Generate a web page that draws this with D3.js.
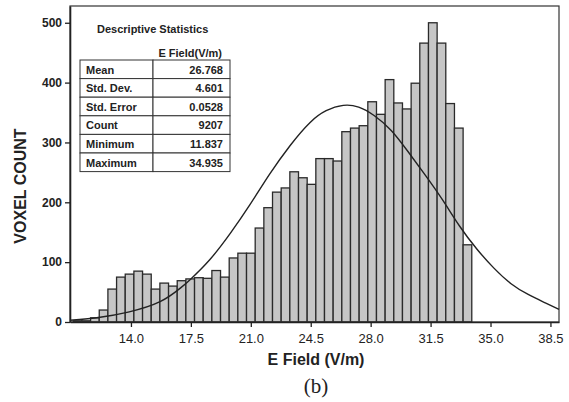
<!DOCTYPE html>
<html><head><meta charset="utf-8">
<script src="https://cdn.jsdelivr.net/npm/d3@7/dist/d3.min.js"></script>
<style>
body{margin:0;background:#fff;}
svg{display:block;font-family:"Liberation Sans",Arial,sans-serif;}
</style></head>
<body><svg id="chart" width="569" height="402"></svg>
<script>
// ---- data ----
const binStart = 10.63;      // lower edge of first bin (axis units)
const binWidth = 0.506;      // bin width (axis units)
const counts = [2,2,7,20,55,75,80,85,80,55,65,60,69,72,74,73,86,75,107,115,115,157,191,217,224,251,241,230,273,273,269,318,324,328,368,347,405,366,356,399,466,500,466,365,324,129];
const curveX = [10.44,12.2,13.9,15.7,16.9,17.5,18.6,19.8,20.95,22.1,23.3,24.45,25.4,26.4,27.3,28.2,29.2,30.2,31.2,32.2,33.2,34.2,35.2,36.2,37.2,38.2,39.0];
const curveY = [3,8,17,34,57,72,104,148,196,247,295,333,353,362,359,345,320,284,245,204,160,122,90,64,46,32,21];
const xTicks = [14.0,17.5,21.0,24.5,28.0,31.5,35.0,38.5];
const yTicks = [0,100,200,300,400,500];
const statNames = ["Mean","Std. Dev.","Std. Error","Count","Minimum","Maximum"];
const statValues = ["26.768","4.601","0.0528","9207","11.837","34.935"];
const statHeader = "E Field(V/m)";
const statTitle = "Descriptive Statistics";

const svg = d3.select("#chart");
const L = 70, R = 559, T = 6, B = 322;
const x = d3.scaleLinear().domain([10.44, 39.0]).range([L, R]);
const y = d3.scaleLinear().domain([0, 528]).range([B, T]);

// bars
const bins = counts.map((c,i)=>({x0: binStart + i*binWidth, x1: binStart + (i+1)*binWidth, c}));
svg.append("g").selectAll("rect").data(bins).join("rect")
  .attr("x", d=>x(d.x0)).attr("width", d=>x(d.x1)-x(d.x0))
  .attr("y", d=>y(d.c)).attr("height", d=>y(0)-y(d.c))
  .attr("fill","#c6c6c6").attr("stroke","#2a2a2a").attr("stroke-width",1.3);

// frame
svg.append("rect").attr("x",L).attr("y",T).attr("width",R-L).attr("height",B-T)
  .attr("fill","none").attr("stroke","#333").attr("stroke-width",1.2);

// normal curve
const pts = curveX.map((v,i)=>[v, curveY[i]]);
svg.append("path").datum(pts)
  .attr("d", d3.line().x(d=>x(d[0])).y(d=>y(d[1])).curve(d3.curveNatural))
  .attr("fill","none").attr("stroke","#222").attr("stroke-width",1.4);

// axes
const xAxis = svg.append("g").attr("transform",`translate(0,${B})`)
  .call(d3.axisBottom(x).tickValues(xTicks).tickFormat(d3.format(".1f")).tickSize(5).tickSizeOuter(0));
xAxis.select(".domain").attr("stroke","#222").attr("stroke-width",1.6);
xAxis.selectAll(".tick line").attr("stroke","#222").attr("stroke-width",1.3);
xAxis.selectAll(".tick text").attr("font-size",13).attr("fill","#222").attr("dy","1.0em")
  .attr("font-family","'Liberation Sans',Arial,sans-serif");

const yAxis = svg.append("g").attr("transform",`translate(${L},0)`)
  .call(d3.axisLeft(y).tickValues(yTicks).tickSize(5).tickSizeOuter(0));
yAxis.select(".domain").attr("stroke","#222").attr("stroke-width",1.6);
yAxis.selectAll(".tick line").attr("stroke","#222").attr("stroke-width",1.3);
yAxis.selectAll(".tick text").attr("font-size",12).attr("font-weight","bold").attr("fill","#222")
  .attr("x",-8).attr("font-family","'Liberation Sans',Arial,sans-serif");

// axis titles
svg.append("text").attr("x",316).attr("y",365).attr("text-anchor","middle")
  .attr("font-size",16).attr("font-weight","bold").attr("fill","#222").text("E Field (V/m)");
svg.append("text").attr("transform","translate(26,186) rotate(-90)").attr("text-anchor","middle")
  .attr("font-size",16).attr("font-weight","bold").attr("fill","#222").text("VOXEL COUNT");
svg.append("text").attr("x",316).attr("y",393).attr("text-anchor","middle")
  .attr("font-size",21).attr("font-family","'Liberation Serif','Times New Roman',serif").attr("fill","#222").text("(b)");

// stats table
const tb = svg.append("g");
tb.append("text").attr("x",97).attr("y",33).attr("font-size",11).attr("font-weight","bold").attr("fill","#222").text(statTitle);
tb.append("text").attr("x",222).attr("y",57).attr("text-anchor","end").attr("font-size",11).attr("font-weight","bold").attr("fill","#222").text(statHeader);
const tx0 = 80, tx1 = 153, tx2 = 230, ty0 = 60, rh = 18.6;
statNames.forEach((n,i)=>{
  const yy = ty0 + i*rh;
  tb.append("rect").attr("x",tx0).attr("y",yy).attr("width",tx1-tx0).attr("height",rh)
    .attr("fill","#fff").attr("stroke","#333").attr("stroke-width",1);
  tb.append("rect").attr("x",tx1).attr("y",yy).attr("width",tx2-tx1).attr("height",rh)
    .attr("fill","#fff").attr("stroke","#333").attr("stroke-width",1);
  tb.append("text").attr("x",86).attr("y",yy+13.5).attr("font-size",11).attr("font-weight","bold").attr("fill","#222").text(n);
  tb.append("text").attr("x",223).attr("y",yy+13.5).attr("text-anchor","end").attr("font-size",11).attr("font-weight","bold").attr("fill","#222").text(statValues[i]);
});
</script></body></html>
